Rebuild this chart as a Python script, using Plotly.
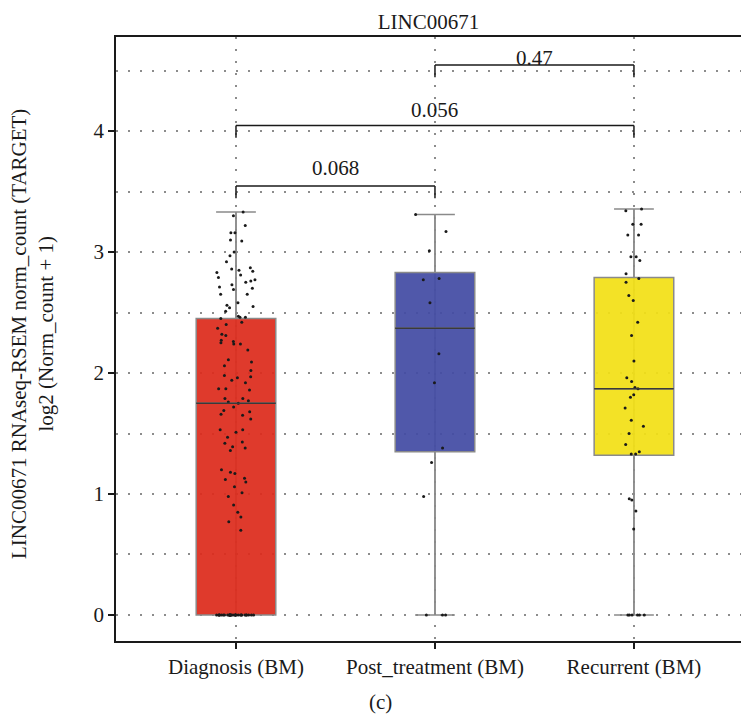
import plotly.graph_objects as go

# ---------------- data ----------------
categories = ["Diagnosis (BM)", "Post_treatment (BM)", "Recurrent (BM)"]
box_colors = ["#DD2B1C", "#434BA4", "#F2E015"]

q1_vals = [0.0, 1.35, 1.32]
median_vals = [1.75, 2.37, 1.87]
q3_vals = [2.45, 2.83, 2.79]
lower_fence = [0.0, 0.0, 0.0]
upper_fence = [3.33, 3.31, 3.355]

diagnosis_pts = [
    3.33, 3.30, 3.22, 3.16, 3.16, 3.10, 3.09, 3.00, 2.97, 2.92, 2.87, 2.86, 2.85, 2.84,
    2.83, 2.81, 2.79, 2.77, 2.76, 2.75, 2.73, 2.71, 2.70, 2.69, 2.65, 2.65, 2.58, 2.56,
    2.55, 2.54, 2.51, 2.47, 2.46, 2.46, 2.45, 2.42, 2.40, 2.37, 2.32, 2.31, 2.27, 2.26,
    2.25, 2.24, 2.24, 2.19, 2.11, 2.09, 2.06, 2.02, 1.98, 1.97, 1.96, 1.94, 1.92, 1.87,
    1.87, 1.86, 1.79, 1.79, 1.77, 1.76, 1.75, 1.72, 1.69, 1.68, 1.66, 1.65, 1.62, 1.53,
    1.53, 1.51, 1.47, 1.43, 1.42, 1.39, 1.38, 1.36, 1.20, 1.18, 1.17, 1.13, 1.12, 1.10,
    1.06, 1.01, 0.98, 0.91, 0.85, 0.81, 0.77, 0.70,
    0, 0, 0, 0, 0, 0, 0, 0, 0, 0, 0, 0, 0, 0, 0, 0, 0, 0, 0, 0, 0, 0, 0, 0, 0, 0, 0, 0, 0, 0,
]
post_treatment_pts = [3.31, 3.17, 3.01, 2.78, 2.77, 2.58, 2.16, 1.92, 1.38, 1.26, 0.98, 0.0, 0.0, 0.0]
recurrent_pts = [
    3.355, 3.34, 3.23, 3.23, 3.14, 3.14, 2.96, 2.96, 2.93, 2.82, 2.78, 2.75, 2.64, 2.60,
    2.42, 2.31, 2.10, 1.96, 1.93, 1.88, 1.87, 1.82, 1.80, 1.71, 1.61, 1.56, 1.50, 1.41,
    1.35, 1.33, 1.33, 0.96, 0.95, 0.86, 0.71, 0.0, 0.0, 0.0, 0.0, 0.0, 0.0,
]
points = [diagnosis_pts, post_treatment_pts, recurrent_pts]

comparisons = [(0, 1, "0.068"), (0, 2, "0.056"), (1, 2, "0.47")]

y_ticks = [0, 1, 2, 3, 4]

title_text = "LINC00671"
y_title = "LINC00671 RNAseq-RSEM norm_count (TARGET)<br>log2 (Norm_count + 1)"
panel_label = "(c)"

# ---------------- figure ----------------
FONT = "Liberation Serif"
FS = 21
TXT = "#1a1a1a"
W, H = 741, 716
ML, MR, MT, MB = 116, 0, 37, 75
PW, PH = W - ML - MR, H - MT - MB
LABEL_SHIFT = [4, 2, -7]

fig = go.Figure()


def rgba(hexc, a):
    h = hexc.lstrip("#")
    return "rgba(%d,%d,%d,%s)" % (int(h[0:2], 16), int(h[2:4], 16), int(h[4:6], 16), a)


for i, cat in enumerate(categories):
    fig.add_trace(go.Box(
        x=[cat], q1=[q1_vals[i]], median=[median_vals[i]], q3=[q3_vals[i]],
        lowerfence=[lower_fence[i]], upperfence=[upper_fence[i]],
        fillcolor=rgba(box_colors[i], 0.93),
        line=dict(color="#8a8a8a", width=1.5),
        whiskerwidth=0.5, width=0.4, boxpoints=False, showlegend=False,
        hoverinfo="skip",
    ))

for i, cat in enumerate(categories):
    fig.add_trace(go.Box(
        x=[cat] * len(points[i]), y=points[i],
        boxpoints="all", jitter=0.5, pointpos=0,
        fillcolor="rgba(0,0,0,0)", line=dict(width=0, color="rgba(0,0,0,0)"),
        marker=dict(size=3, color="#1a1a1a"),
        width=0.4, showlegend=False,
    ))

shapes = []
for i in range(len(categories)):
    shapes.append(dict(type="line", xref="x", yref="y", x0=i, x1=i,
                       y0=lower_fence[i], y1=upper_fence[i], layer="between",
                       line=dict(color="#8a8a8a", width=1.5)))
    shapes.append(dict(type="line", xref="x", yref="y", x0=i - 0.2, x1=i + 0.2,
                       y0=median_vals[i], y1=median_vals[i],
                       line=dict(color="#3a3a3a", width=1.5)))

top = max(upper_fence)
annotations = []
for k, (a, b, label) in enumerate(comparisons):
    yb = top + 0.19 + 0.5 * k
    leg = 0.1
    for (x0, y0, x1, y1) in [(a, yb - leg, a, yb), (a, yb, b, yb), (b, yb, b, yb - leg)]:
        shapes.append(dict(type="line", xref="x", yref="y", x0=x0, x1=x1, y0=y0, y1=y1,
                           line=dict(color=TXT, width=1.5)))
    annotations.append(dict(x=(a + b) / 2, y=yb, xref="x", yref="y", text=label,
                            showarrow=False, yanchor="bottom", yshift=LABEL_SHIFT[k],
                            font=dict(family=FONT, size=FS, color=TXT)))

# y-axis title (two lines, rotated)
annotations.append(dict(x=(32 - ML) / PW, y=(H - MB - 334) / PH, xref="paper", yref="paper",
                        text=y_title, textangle=-90, showarrow=False,
                        xanchor="center", yanchor="middle", align="center",
                        font=dict(family=FONT, size=FS, color=TXT)))
# panel label
annotations.append(dict(x=(380 - ML) / PW, y=(H - MB - 702) / PH, xref="paper", yref="paper",
                        text=panel_label, showarrow=False, xanchor="center", yanchor="middle",
                        font=dict(family=FONT, size=FS, color=TXT)))

fig.update_layout(
    width=W, height=H,
    margin=dict(l=ML, r=MR, t=MT, b=MB, autoexpand=False),
    paper_bgcolor="white", plot_bgcolor="white",
    boxmode="overlay",
    title=dict(text=title_text, x=(ML + PW / 2) / W, xanchor="center", y=1 - 22 / H,
               yanchor="middle", font=dict(family=FONT, size=FS, color=TXT)),
    font=dict(family=FONT, size=FS, color=TXT),
    shapes=shapes, annotations=annotations,
    xaxis=dict(type="category", categoryorder="array", categoryarray=categories,
               range=[-0.603, 2.538],
               showgrid=True, gridcolor="#8c8c8c", gridwidth=1.5, griddash="2px,10px",
               showline=True, linecolor=TXT, linewidth=1.5, mirror=True,
               ticks="outside", ticklen=6, tickwidth=2, tickcolor=TXT,
               tickfont=dict(family=FONT, size=FS, color=TXT), zeroline=False),
    yaxis=dict(range=[-0.215, 4.777], tickvals=y_ticks,
               showgrid=True, gridcolor="#8c8c8c", gridwidth=1.5, griddash="2px,10px",
               minor=dict(dtick=0.5, showgrid=True, gridcolor="#8c8c8c", gridwidth=1.5,
                          griddash="2px,10px"),
               showline=True, linecolor=TXT, linewidth=1.5, mirror=True,
               ticks="outside", ticklen=6, tickwidth=2, tickcolor=TXT,
               tickfont=dict(family=FONT, size=FS, color=TXT), zeroline=False),
)

fig.write_html("out.html", config={"displayModeBar": False},
               post_script="document.body.style.margin='0px';")
